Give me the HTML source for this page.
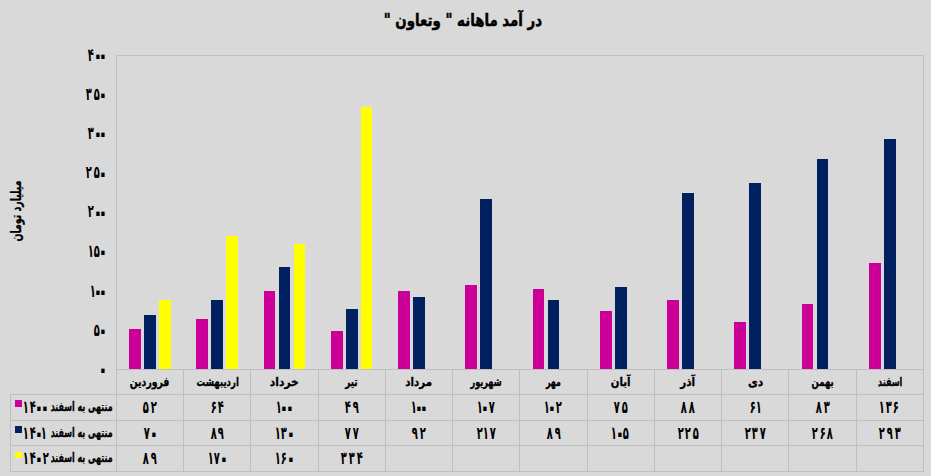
<!DOCTYPE html>
<html lang="fa"><head><meta charset="utf-8"><title>در آمد ماهانه</title>
<style>
html,body{margin:0;padding:0;}
body{width:931px;height:476px;background:#d9d9d9;position:relative;overflow:hidden;font-family:"DejaVu Sans", sans-serif;font-weight:bold;color:#000;-webkit-text-stroke:0.3px #000;}
svg{position:absolute;left:0;top:0;}
.b{position:absolute;white-space:nowrap;line-height:1;direction:rtl;}
.c{text-align:center;}
.r{text-align:right;}
.c>span,.r>span{display:inline-block;}
.c>span{transform-origin:50% 50%;}
.r>span{transform-origin:100% 50%;}
.k{font-size:12px;}
.l{font-size:13px;}
.n{display:inline-block;direction:ltr;unicode-bidi:isolate;font-size:16px;line-height:16px;-webkit-text-stroke:0;}
.g{display:inline-block;font-style:normal;transform:scale(0.62,1.1);transform-origin:50% 50%;}
.g.z{transform:scale(1.2,1.6);position:relative;top:0.6px;}
</style></head><body>
<svg width="931" height="476" viewBox="0 0 931 476" shape-rendering="crispEdges">
<rect x="116.5" y="55.5" width="807" height="314" fill="none" stroke="#bfbfbf" stroke-width="1"/>
<line x1="116" y1="369.5" x2="924" y2="369.5" stroke="#bfbfbf"/>
<line x1="10" y1="394.5" x2="924" y2="394.5" stroke="#bfbfbf"/>
<line x1="10" y1="420.5" x2="924" y2="420.5" stroke="#bfbfbf"/>
<line x1="10" y1="445.5" x2="924" y2="445.5" stroke="#bfbfbf"/>
<line x1="10" y1="471.5" x2="924" y2="471.5" stroke="#bfbfbf"/>
<line x1="116.5" y1="369" x2="116.5" y2="472" stroke="#bfbfbf"/>
<line x1="183.5" y1="369" x2="183.5" y2="472" stroke="#bfbfbf"/>
<line x1="250.5" y1="369" x2="250.5" y2="472" stroke="#bfbfbf"/>
<line x1="318.5" y1="369" x2="318.5" y2="472" stroke="#bfbfbf"/>
<line x1="385.5" y1="369" x2="385.5" y2="472" stroke="#bfbfbf"/>
<line x1="452.5" y1="369" x2="452.5" y2="472" stroke="#bfbfbf"/>
<line x1="519.5" y1="369" x2="519.5" y2="472" stroke="#bfbfbf"/>
<line x1="587.5" y1="369" x2="587.5" y2="472" stroke="#bfbfbf"/>
<line x1="654.5" y1="369" x2="654.5" y2="472" stroke="#bfbfbf"/>
<line x1="721.5" y1="369" x2="721.5" y2="472" stroke="#bfbfbf"/>
<line x1="788.5" y1="369" x2="788.5" y2="472" stroke="#bfbfbf"/>
<line x1="856.5" y1="369" x2="856.5" y2="472" stroke="#bfbfbf"/>
<line x1="923.5" y1="369" x2="923.5" y2="472" stroke="#bfbfbf"/>
<line x1="10.5" y1="394" x2="10.5" y2="472" stroke="#bfbfbf"/>
<rect x="129" y="329" width="12" height="40" fill="#CC0099"/>
<rect x="144" y="315" width="12" height="54" fill="#002060"/>
<rect x="159" y="300" width="12" height="69" fill="#FFFF00"/>
<rect x="196" y="319" width="12" height="50" fill="#CC0099"/>
<rect x="211" y="300" width="12" height="69" fill="#002060"/>
<rect x="226" y="236" width="12" height="133" fill="#FFFF00"/>
<rect x="264" y="291" width="11" height="78" fill="#CC0099"/>
<rect x="279" y="267" width="11" height="102" fill="#002060"/>
<rect x="294" y="244" width="11" height="125" fill="#FFFF00"/>
<rect x="331" y="331" width="12" height="38" fill="#CC0099"/>
<rect x="346" y="309" width="12" height="60" fill="#002060"/>
<rect x="361" y="107" width="11" height="262" fill="#FFFF00"/>
<rect x="398" y="291" width="12" height="78" fill="#CC0099"/>
<rect x="413" y="297" width="12" height="72" fill="#002060"/>
<rect x="465" y="285" width="12" height="84" fill="#CC0099"/>
<rect x="480" y="199" width="12" height="170" fill="#002060"/>
<rect x="533" y="289" width="11" height="80" fill="#CC0099"/>
<rect x="548" y="300" width="11" height="69" fill="#002060"/>
<rect x="600" y="311" width="12" height="58" fill="#CC0099"/>
<rect x="615" y="287" width="12" height="82" fill="#002060"/>
<rect x="667" y="300" width="12" height="69" fill="#CC0099"/>
<rect x="682" y="193" width="12" height="176" fill="#002060"/>
<rect x="734" y="322" width="12" height="47" fill="#CC0099"/>
<rect x="749" y="183" width="12" height="186" fill="#002060"/>
<rect x="802" y="304" width="11" height="65" fill="#CC0099"/>
<rect x="817" y="159" width="11" height="210" fill="#002060"/>
<rect x="869" y="263" width="12" height="106" fill="#CC0099"/>
<rect x="884" y="139" width="12" height="230" fill="#002060"/>
<rect x="15" y="400" width="7" height="7" fill="#CC0099"/>
<rect x="15" y="426" width="7" height="7" fill="#002060"/>
<rect x="15" y="452" width="7" height="6" fill="#FFFF00"/>
</svg>

<div class="b c" style="left:263.0px;top:11.9px;width:400px;font-size:17px;-webkit-text-stroke:0.5px #000;"><span style="transform:scaleX(0.785);">در آمد ماهانه " وتعاون "</span></div>
<div class="b c" style="left:-84.2px;top:204.0px;width:200px;font-size:14px;transform:rotate(-90deg) scaleX(0.67);transform-origin:50% 50%;">میلیارد تومان</div>
<div class="b r" style="left:46px;width:60px;top:361.6px;"><span class="n"><i class="g z" style="margin:0 -2.13px">۰</i></span></div>
<div class="b r" style="left:46px;width:60px;top:322.3px;"><span class="n"><i class="g" style="margin:0 -1.08px">۵</i><i class="g z" style="margin:0 -2.13px">۰</i></span></div>
<div class="b r" style="left:46px;width:60px;top:283.0px;"><span class="n"><i class="g" style="margin:0 -2.48px">۱</i><i class="g z" style="margin:0 -2.13px">۰</i><i class="g z" style="margin:0 -2.13px">۰</i></span></div>
<div class="b r" style="left:46px;width:60px;top:243.7px;"><span class="n"><i class="g" style="margin:0 -2.48px">۱</i><i class="g" style="margin:0 -1.08px">۵</i><i class="g z" style="margin:0 -2.13px">۰</i></span></div>
<div class="b r" style="left:46px;width:60px;top:204.4px;"><span class="n"><i class="g" style="margin:0 -1.08px">۲</i><i class="g z" style="margin:0 -2.13px">۰</i><i class="g z" style="margin:0 -2.13px">۰</i></span></div>
<div class="b r" style="left:46px;width:60px;top:165.1px;"><span class="n"><i class="g" style="margin:0 -1.08px">۲</i><i class="g" style="margin:0 -1.08px">۵</i><i class="g z" style="margin:0 -2.13px">۰</i></span></div>
<div class="b r" style="left:46px;width:60px;top:125.8px;"><span class="n"><i class="g" style="margin:0 -1.08px">۳</i><i class="g z" style="margin:0 -2.13px">۰</i><i class="g z" style="margin:0 -2.13px">۰</i></span></div>
<div class="b r" style="left:46px;width:60px;top:86.5px;"><span class="n"><i class="g" style="margin:0 -1.08px">۳</i><i class="g" style="margin:0 -1.08px">۵</i><i class="g z" style="margin:0 -2.13px">۰</i></span></div>
<div class="b r" style="left:46px;width:60px;top:47.2px;"><span class="n"><i class="g" style="margin:0 -1.08px">۴</i><i class="g z" style="margin:0 -2.13px">۰</i><i class="g z" style="margin:0 -2.13px">۰</i></span></div>
<div class="b c k" style="left:116.40px;top:375.8px;width:67.25px;"><span style="transform:scaleX(0.776)">فروردین</span></div>
<div class="b c" style="left:116.50px;top:399.0px;width:67.25px;"><span class="n"><i class="g" style="margin:0 -1.08px">۵</i><i class="g" style="margin:0 -1.08px">۲</i></span></div>
<div class="b c" style="left:116.50px;top:425.0px;width:67.25px;"><span class="n"><i class="g" style="margin:0 -1.08px">۷</i><i class="g z" style="margin:0 -2.13px">۰</i></span></div>
<div class="b c" style="left:116.50px;top:450.0px;width:67.25px;"><span class="n"><i class="g" style="margin:0 -1.08px">۸</i><i class="g" style="margin:0 -1.08px">۹</i></span></div>
<div class="b c k" style="left:183.65px;top:375.8px;width:67.25px;"><span style="transform:scaleX(0.710)">اردیبهشت</span></div>
<div class="b c" style="left:183.75px;top:399.0px;width:67.25px;"><span class="n"><i class="g" style="margin:0 -1.08px">۶</i><i class="g" style="margin:0 -1.08px">۴</i></span></div>
<div class="b c" style="left:183.75px;top:425.0px;width:67.25px;"><span class="n"><i class="g" style="margin:0 -1.08px">۸</i><i class="g" style="margin:0 -1.08px">۹</i></span></div>
<div class="b c" style="left:183.75px;top:450.0px;width:67.25px;"><span class="n"><i class="g" style="margin:0 -2.48px">۱</i><i class="g" style="margin:0 -1.08px">۷</i><i class="g z" style="margin:0 -2.13px">۰</i></span></div>
<div class="b c k" style="left:250.90px;top:375.8px;width:67.25px;"><span style="transform:scaleX(0.890)">خرداد</span></div>
<div class="b c" style="left:251.00px;top:399.0px;width:67.25px;"><span class="n"><i class="g" style="margin:0 -2.48px">۱</i><i class="g z" style="margin:0 -2.13px">۰</i><i class="g z" style="margin:0 -2.13px">۰</i></span></div>
<div class="b c" style="left:251.00px;top:425.0px;width:67.25px;"><span class="n"><i class="g" style="margin:0 -2.48px">۱</i><i class="g" style="margin:0 -1.08px">۳</i><i class="g z" style="margin:0 -2.13px">۰</i></span></div>
<div class="b c" style="left:251.00px;top:450.0px;width:67.25px;"><span class="n"><i class="g" style="margin:0 -2.48px">۱</i><i class="g" style="margin:0 -1.08px">۶</i><i class="g z" style="margin:0 -2.13px">۰</i></span></div>
<div class="b c k" style="left:318.15px;top:375.8px;width:67.25px;"><span style="transform:scaleX(0.735)">تیر</span></div>
<div class="b c" style="left:318.25px;top:399.0px;width:67.25px;"><span class="n"><i class="g" style="margin:0 -1.08px">۴</i><i class="g" style="margin:0 -1.08px">۹</i></span></div>
<div class="b c" style="left:318.25px;top:425.0px;width:67.25px;"><span class="n"><i class="g" style="margin:0 -1.08px">۷</i><i class="g" style="margin:0 -1.08px">۷</i></span></div>
<div class="b c" style="left:318.25px;top:450.0px;width:67.25px;"><span class="n"><i class="g" style="margin:0 -1.08px">۳</i><i class="g" style="margin:0 -1.08px">۳</i><i class="g" style="margin:0 -1.08px">۴</i></span></div>
<div class="b c k" style="left:385.40px;top:375.8px;width:67.25px;"><span style="transform:scaleX(0.853)">مرداد</span></div>
<div class="b c" style="left:385.50px;top:399.0px;width:67.25px;"><span class="n"><i class="g" style="margin:0 -2.48px">۱</i><i class="g z" style="margin:0 -2.13px">۰</i><i class="g z" style="margin:0 -2.13px">۰</i></span></div>
<div class="b c" style="left:385.50px;top:425.0px;width:67.25px;"><span class="n"><i class="g" style="margin:0 -1.08px">۹</i><i class="g" style="margin:0 -1.08px">۲</i></span></div>
<div class="b c k" style="left:452.65px;top:375.8px;width:67.25px;"><span style="transform:scaleX(0.674)">شهریور</span></div>
<div class="b c" style="left:452.75px;top:399.0px;width:67.25px;"><span class="n"><i class="g" style="margin:0 -2.48px">۱</i><i class="g z" style="margin:0 -2.13px">۰</i><i class="g" style="margin:0 -1.08px">۷</i></span></div>
<div class="b c" style="left:452.75px;top:425.0px;width:67.25px;"><span class="n"><i class="g" style="margin:0 -1.08px">۲</i><i class="g" style="margin:0 -2.48px">۱</i><i class="g" style="margin:0 -1.08px">۷</i></span></div>
<div class="b c k" style="left:519.90px;top:375.8px;width:67.25px;"><span style="transform:scaleX(0.657)">مهر</span></div>
<div class="b c" style="left:520.00px;top:399.0px;width:67.25px;"><span class="n"><i class="g" style="margin:0 -2.48px">۱</i><i class="g z" style="margin:0 -2.13px">۰</i><i class="g" style="margin:0 -1.08px">۲</i></span></div>
<div class="b c" style="left:520.00px;top:425.0px;width:67.25px;"><span class="n"><i class="g" style="margin:0 -1.08px">۸</i><i class="g" style="margin:0 -1.08px">۹</i></span></div>
<div class="b c k" style="left:587.15px;top:375.8px;width:67.25px;"><span style="transform:scaleX(0.848)">آبان</span></div>
<div class="b c" style="left:587.25px;top:399.0px;width:67.25px;"><span class="n"><i class="g" style="margin:0 -1.08px">۷</i><i class="g" style="margin:0 -1.08px">۵</i></span></div>
<div class="b c" style="left:587.25px;top:425.0px;width:67.25px;"><span class="n"><i class="g" style="margin:0 -2.48px">۱</i><i class="g z" style="margin:0 -2.13px">۰</i><i class="g" style="margin:0 -1.08px">۵</i></span></div>
<div class="b c k" style="left:654.40px;top:375.8px;width:67.25px;"><span style="transform:scaleX(0.867)">آذر</span></div>
<div class="b c" style="left:654.50px;top:399.0px;width:67.25px;"><span class="n"><i class="g" style="margin:0 -1.08px">۸</i><i class="g" style="margin:0 -1.08px">۸</i></span></div>
<div class="b c" style="left:654.50px;top:425.0px;width:67.25px;"><span class="n"><i class="g" style="margin:0 -1.08px">۲</i><i class="g" style="margin:0 -1.08px">۲</i><i class="g" style="margin:0 -1.08px">۵</i></span></div>
<div class="b c k" style="left:721.65px;top:375.8px;width:67.25px;"><span style="transform:scaleX(0.894)">دی</span></div>
<div class="b c" style="left:721.75px;top:399.0px;width:67.25px;"><span class="n"><i class="g" style="margin:0 -1.08px">۶</i><i class="g" style="margin:0 -2.48px">۱</i></span></div>
<div class="b c" style="left:721.75px;top:425.0px;width:67.25px;"><span class="n"><i class="g" style="margin:0 -1.08px">۲</i><i class="g" style="margin:0 -1.08px">۳</i><i class="g" style="margin:0 -1.08px">۷</i></span></div>
<div class="b c k" style="left:788.90px;top:375.8px;width:67.25px;"><span style="transform:scaleX(0.707)">بهمن</span></div>
<div class="b c" style="left:789.00px;top:399.0px;width:67.25px;"><span class="n"><i class="g" style="margin:0 -1.08px">۸</i><i class="g" style="margin:0 -1.08px">۳</i></span></div>
<div class="b c" style="left:789.00px;top:425.0px;width:67.25px;"><span class="n"><i class="g" style="margin:0 -1.08px">۲</i><i class="g" style="margin:0 -1.08px">۶</i><i class="g" style="margin:0 -1.08px">۸</i></span></div>
<div class="b c k" style="left:856.15px;top:375.8px;width:67.25px;"><span style="transform:scaleX(0.669)">اسفند</span></div>
<div class="b c" style="left:856.25px;top:399.0px;width:67.25px;"><span class="n"><i class="g" style="margin:0 -2.48px">۱</i><i class="g" style="margin:0 -1.08px">۳</i><i class="g" style="margin:0 -1.08px">۶</i></span></div>
<div class="b c" style="left:856.25px;top:425.0px;width:67.25px;"><span class="n"><i class="g" style="margin:0 -1.08px">۲</i><i class="g" style="margin:0 -1.08px">۹</i><i class="g" style="margin:0 -1.08px">۳</i></span></div>
<div class="b r l" style="left:13px;width:100px;top:399.7px;"><span style="transform:scaleX(0.61)">منتهی به اسفند</span></div>
<div class="b" style="left:23.8px;top:399.0px;direction:ltr;"><span class="n"><i class="g" style="margin:0 -2.48px">۱</i><i class="g" style="margin:0 -1.08px">۴</i><i class="g z" style="margin:0 -2.13px">۰</i><i class="g z" style="margin:0 -2.13px">۰</i></span></div>
<div class="b r l" style="left:13px;width:100px;top:425.7px;"><span style="transform:scaleX(0.61)">منتهی به اسفند</span></div>
<div class="b" style="left:23.8px;top:425.0px;direction:ltr;"><span class="n"><i class="g" style="margin:0 -2.48px">۱</i><i class="g" style="margin:0 -1.08px">۴</i><i class="g z" style="margin:0 -2.13px">۰</i><i class="g" style="margin:0 -2.48px">۱</i></span></div>
<div class="b r l" style="left:13px;width:100px;top:450.7px;"><span style="transform:scaleX(0.61)">منتهی به اسفند</span></div>
<div class="b" style="left:23.8px;top:450.0px;direction:ltr;"><span class="n"><i class="g" style="margin:0 -2.48px">۱</i><i class="g" style="margin:0 -1.08px">۴</i><i class="g z" style="margin:0 -2.13px">۰</i><i class="g" style="margin:0 -1.08px">۲</i></span></div>
</body></html>
